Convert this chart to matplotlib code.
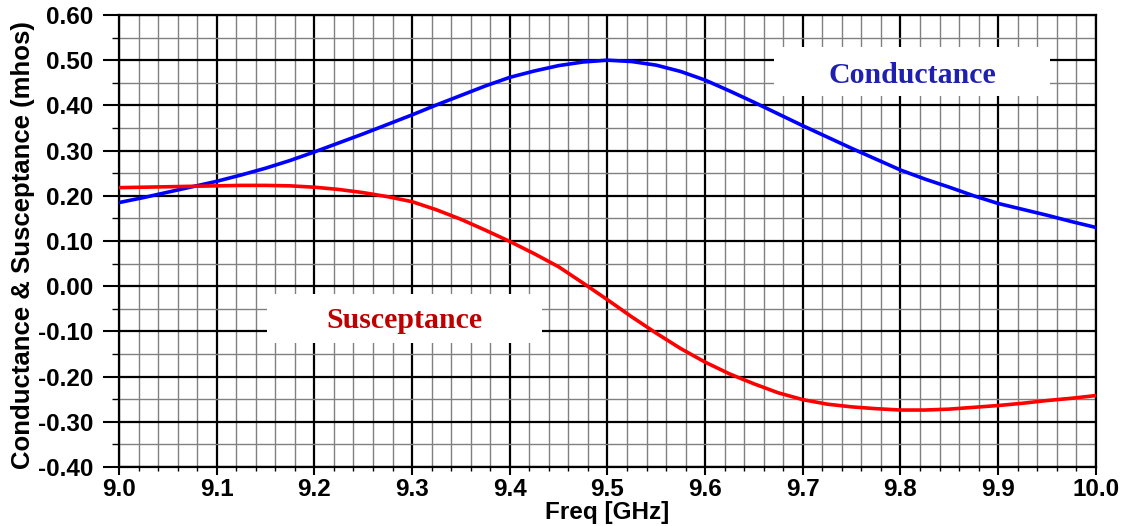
import matplotlib
matplotlib.use("Agg")
from matplotlib import pyplot as plt
from matplotlib.patches import Rectangle
from matplotlib.ticker import MultipleLocator

# Values (every 0.025 GHz)
freq = [9.000, 9.025, 9.050, 9.075, 9.100, 9.125, 9.150, 9.175, 9.200, 9.225,
        9.250, 9.275, 9.300, 9.325, 9.350, 9.375, 9.400, 9.425, 9.450, 9.475,
        9.500, 9.525, 9.550, 9.575, 9.600, 9.625, 9.650, 9.675, 9.700, 9.725,
        9.750, 9.775, 9.800, 9.825, 9.850, 9.875, 9.900, 9.925, 9.950, 9.975,
        10.000]
conductance = [0.185, 0.196, 0.208, 0.220, 0.232, 0.246, 0.261, 0.278, 0.297, 0.317,
               0.337, 0.358, 0.379, 0.401, 0.422, 0.443, 0.462, 0.476, 0.488, 0.496,
               0.500, 0.497, 0.489, 0.475, 0.456, 0.432, 0.407, 0.381, 0.355, 0.330,
               0.305, 0.281, 0.257, 0.237, 0.219, 0.200, 0.183, 0.170, 0.157, 0.143,
               0.130]
susceptance = [0.218, 0.219, 0.220, 0.221, 0.222, 0.223, 0.223, 0.222, 0.219, 0.214,
               0.207, 0.198, 0.187, 0.169, 0.148, 0.124, 0.099, 0.072, 0.043, 0.007,
               -0.030, -0.068, -0.104, -0.138, -0.168, -0.194, -0.216, -0.236, -0.251, -0.261,
               -0.267, -0.271, -0.274, -0.274, -0.272, -0.268, -0.264, -0.259, -0.253, -0.248,
               -0.242]

xticks = [9.0, 9.1, 9.2, 9.3, 9.4, 9.5, 9.6, 9.7, 9.8, 9.9, 10.0]
yticks = [-0.40, -0.30, -0.20, -0.10, 0.00, 0.10, 0.20, 0.30, 0.40, 0.50, 0.60]

fig = plt.figure(figsize=(11.28, 5.26), dpi=100)
ax = fig.add_axes([0.1055, 0.1122, 0.866, 0.8593])

ax.set_xlim(9.0, 10.0)
ax.set_ylim(-0.40, 0.60)
ax.set_xticks(xticks)
ax.set_yticks(yticks)
ax.xaxis.set_minor_locator(MultipleLocator(0.02))
ax.yaxis.set_minor_locator(MultipleLocator(0.05))
ax.set_xticklabels([f"{v:.1f}" for v in xticks])
ax.set_yticklabels([f"{v:.2f}" for v in yticks])

ax.grid(which="minor", color="#808080", lw=1.0, zorder=1)
ax.grid(which="major", color="black", lw=1.6, zorder=1)
ax.set_axisbelow(True)

for s in ax.spines.values():
    s.set_linewidth(1.6)

ax.tick_params(which="major", direction="out", width=1.5, labelsize=17.5)
ax.tick_params(which="minor", direction="out", width=1.0)
ax.yaxis.set_tick_params(which="major", length=11.5, pad=7)
ax.yaxis.set_tick_params(which="minor", length=5)
ax.xaxis.set_tick_params(which="major", length=5.8, pad=2)
ax.xaxis.set_tick_params(which="minor", length=3)
for lab in ax.get_xticklabels() + ax.get_yticklabels():
    lab.set_fontfamily("Liberation Sans")
    lab.set_fontweight("bold")

ax.plot(freq, conductance, color="#0000ff", lw=2.6, zorder=4)
ax.plot(freq, susceptance, color="#ff0000", lw=2.6, zorder=4)

# label boxes
ax.add_patch(Rectangle((9.671, 0.421), 0.282, 0.108, facecolor="white",
                       edgecolor="none", zorder=3))
ax.text(9.812, 0.4496, "Conductance", color="#2020b0", fontsize=21.5,
        fontfamily="Liberation Serif", fontweight="bold",
        ha="center", va="baseline", zorder=5)
ax.add_patch(Rectangle((9.1515, -0.126), 0.2815, 0.109, facecolor="white",
                       edgecolor="none", zorder=3))
ax.text(9.292, -0.0925, "Susceptance", color="#c00000", fontsize=21.5,
        fontfamily="Liberation Serif", fontweight="bold",
        ha="center", va="baseline", zorder=5)

ax.set_xlabel("Freq [GHz]", fontsize=17.5, fontfamily="Liberation Sans",
              fontweight="bold", va="center")
ax.xaxis.set_label_coords(0.5, -0.1005)
ax.set_ylabel("Conductance & Susceptance (mhos)", fontsize=18.5,
              fontfamily="Liberation Sans", fontweight="bold", va="center")
ax.yaxis.set_label_coords(-0.0985, 0.491)

fig.savefig("out.png", dpi=100)
